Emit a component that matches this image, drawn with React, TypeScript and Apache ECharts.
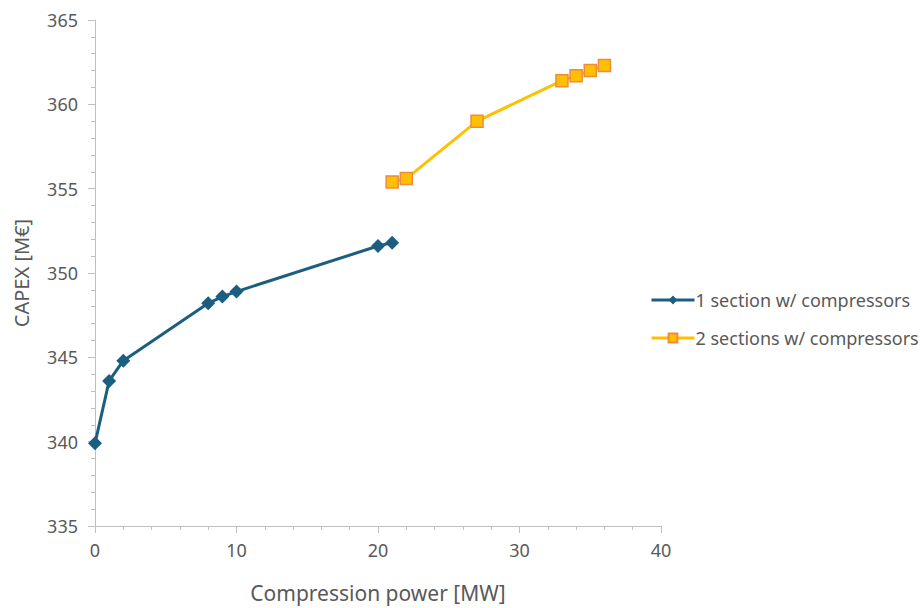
import React, { useEffect, useRef } from "react";
import * as echarts from "echarts";

const s1Name = "1 section w/ compressors";
const s1X = [0, 1, 2, 8, 9, 10, 20, 21];
const s1Y = [339.9, 343.6, 344.8, 348.2, 348.6, 348.9, 351.6, 351.8];

const s2Name = "2 sections w/ compressors";
const s2X = [21, 22, 27, 33, 34, 35, 36];
const s2Y = [355.4, 355.6, 359.0, 361.4, 361.7, 362.0, 362.3];

const FONT = "Noto Sans";
const TXT = "#595959";
const AX = "#bfbfbf";

export default function App() {
  const ref = useRef<HTMLDivElement>(null);
  useEffect(() => {
    const chart = echarts.init(ref.current!, null, { renderer: "svg" });
    chart.setOption({
      animation: false,
      backgroundColor: "#ffffff",
      textStyle: { fontFamily: FONT },
      grid: { left: 95, right: 261, top: 20, bottom: 75, containLabel: false },
      legend: {
        orient: "vertical",
        left: 645,
        top: 286,
        itemWidth: 43,
        itemHeight: 11,
        itemGap: 20,
        lineStyle: { width: 3 },
        textStyle: { fontFamily: FONT, fontSize: 18, color: TXT, padding: [0, 0, 0, -4] },
        data: [s1Name, s2Name],
      },
      xAxis: {
        type: "value",
        min: 0,
        max: 40,
        interval: 10,
        name: "Compression power [MW]",
        nameLocation: "middle",
        nameGap: 56,
        nameTextStyle: { fontFamily: FONT, fontSize: 21, color: TXT },
        axisLine: { show: true, lineStyle: { color: AX, width: 1 } },
        axisTick: { show: true, length: 7, lineStyle: { color: AX } },
        minorTick: { show: true, splitNumber: 5, length: 4, lineStyle: { color: AX } },
        splitLine: { show: false },
        axisLabel: { fontFamily: FONT, fontSize: 18, color: TXT, margin: 15 },
      },
      yAxis: {
        type: "value",
        min: 335,
        max: 365,
        interval: 5,
        name: "CAPEX [M€]",
        nameLocation: "middle",
        nameGap: 64,
        nameRotate: 90,
        nameTextStyle: { fontFamily: FONT, fontSize: 20, color: TXT },
        axisLine: { show: true, lineStyle: { color: AX, width: 1 } },
        axisTick: { show: true, length: 7, lineStyle: { color: AX } },
        minorTick: { show: true, splitNumber: 5, length: 4, lineStyle: { color: AX } },
        splitLine: { show: false },
        axisLabel: { fontFamily: FONT, fontSize: 18, color: TXT, margin: 17 },
      },
      series: [
        {
          name: s1Name,
          type: "line",
          data: s1X.map((x, i) => [x, s1Y[i]]),
          symbol: "diamond",
          symbolSize: 14,
          lineStyle: { color: "#1B5E80", width: 3 },
          itemStyle: { color: "#1B5E80" },
        },
        {
          name: s2Name,
          type: "line",
          data: s2X.map((x, i) => [x, s2Y[i]]),
          symbol: "rect",
          symbolSize: 12,
          lineStyle: { color: "#FFC000", width: 3 },
          itemStyle: { color: "#FFC000", borderColor: "#F08A3C", borderWidth: 1.5 },
        },
      ],
    });
    return () => chart.dispose();
  }, []);
  return <div ref={ref} style={{ width: 922, height: 608, position: "absolute", left: 0, top: 0 }} />;
}
